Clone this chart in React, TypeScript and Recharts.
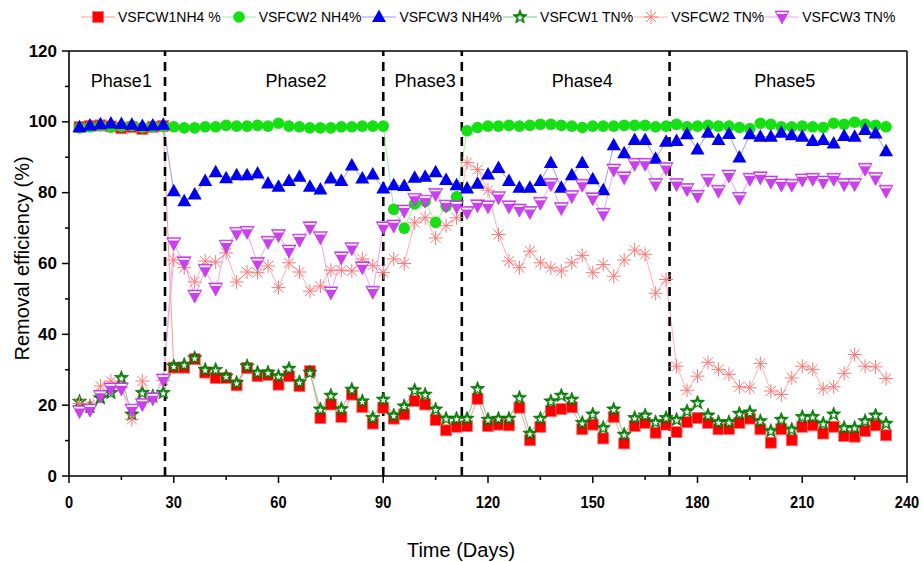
import { LineChart, Line, XAxis, YAxis, ReferenceLine, ReferenceDot } from 'recharts'

// sampling days (every 3 days)
const days = [3, 6, 9, 12, 15, 18, 21, 24, 27, 30, 33, 36, 39, 42, 45, 48, 51, 54, 57, 60, 63, 66, 69, 72, 75, 78, 81, 84, 87, 90,
  93, 96, 99, 102, 105, 108, 111, 114, 117, 120, 123, 126, 129, 132, 135, 138, 141, 144, 147, 150, 153, 156, 159, 162, 165, 168,
  171, 174, 177, 180, 183, 186, 189, 192, 195, 198, 201, 204, 207, 210, 213, 216, 219, 222, 225, 228, 231, 234]

const nh4W1 = [98.5, 98.8, 99, 98.7, 98.2, 98.5, 98, 98.6, 98.8,
  30.6, 30.6, 33, 29.2, 27.7, 27.7, 25.6, 30.5, 28.2, 28.5,
  25.8, 28.2, 25.4, 29.6, 16.4, 20.2, 16.7, 23, 19.5, 14.8, 19.3, 16.2, 17.4, 21.2, 20.2, 15.8, 12.9, 13.9, 14.1, 21.8,
  14.1, 14.5, 14.3, 19.3, 10.1, 13.9, 18.3, 18.9, 19.4, 13.2, 14.5, 10.6, 16.7, 9.2, 14.1, 15, 12.2, 14.5, 12.4, 15.2,
  16.4, 15, 13.2, 13.3, 15, 16.2, 13.2, 9.4, 13.2, 10.1, 13.9, 14.3, 12, 13.9, 11.3, 11.1, 12.7, 14.3, 11.5]

const nh4W2 = [98.3, 98.6, 98.9, 98.5, 98.7, 98.9, 98.4, 98.6, 98.7,
  98.6, 98.3, 98.3, 98.6, 98.6, 99, 98.8, 98.8, 99, 98.8, 99.6, 98.8, 98.6, 98.3, 98.3, 98.3, 98.6, 98.6, 98.8, 98.8, 98.8,
  75.3, 70, 76.8, 77.5, 71.6, 76.2, 78.8,
  97.5, 98.4, 98.8, 98.8, 99, 98.8, 99, 99.3, 99.3, 99, 98.8, 98.4, 98.8, 98.8, 98.8, 99, 99, 99, 98.6, 98.8,
  99.3, 98.6, 98.8, 99, 98.8, 98.8, 98.4, 98.1, 99.6, 99.3, 98.6, 98.6, 98.8, 98.6, 98.4, 99.6, 99.3, 99.9, 99.3, 99, 98.6]

const nh4W3 = [98.5, 99, 99.3, 99.5, 99.4, 99.2, 98.8, 99, 99.2,
  80.4, 77.6, 79.5, 83.3, 85.8, 84.1, 84.9, 84.9, 85.4, 82.6, 81.7, 83.3, 84.5, 81.7, 80.9, 84, 83.3, 87.7, 84, 85.1, 81.2,
  82.1, 81.9, 84.2, 84.5, 85.8, 83.6, 82.1,
  81.2, 82.5, 85.1, 87, 83.3, 81.4, 81.4, 83.3, 88.4, 81.4, 84.9, 88.4, 83.8, 80.7, 93.4, 91.1, 94.9, 94.9, 89.6, 94.4,
  94.6, 96.5, 92.2, 96.9, 94.9, 96.6, 89.9, 96.5, 95.8, 95.8, 96.9, 96.2, 95.8, 94.6, 94.9, 93.9, 96, 95.8, 97.7, 96.7, 91.7]

const tnW1 = [21, 19.5, 22, 23.5, 27.7, 17.4, 23.5, 22.5, 23.5,
  31, 31.4, 33.3, 30, 30, 28.1, 26.3, 31, 29.2, 29.2,
  28.2, 30.3, 26.5, 29.2, 18.8, 22.7, 18.9, 24.4, 21.1, 16.4, 21.6, 17.1, 19.7, 24.2, 23, 18.8, 16.2, 16.2, 16.2, 24.6,
  15.9, 16.2, 16.2, 22.1, 12, 16.2, 21.1, 22.7, 21.6, 15, 17.4, 13.6, 18.8, 11.7, 16.4, 17.1, 15.2, 16.4, 15.9, 18.3,
  20.7, 17.1, 15.2, 15.2, 17.6, 18, 15.5, 12.7, 15.9, 13.1, 16.7, 16.7, 14.8, 17.4, 13.6, 13.6, 15.5, 17.1, 14.8]

const tnW2 = [20.5, 20, 25.4, 26.8, 25, 16, 26.8, 22, 27,
  61, 58.8, 54.8, 60.7, 60.4, 63, 54.8, 57.6, 57.4, 59.3, 53.2, 60.2, 57.6, 52.2, 53.6, 58.1, 58.1, 57.9, 61.3, 59.4, 57.5,
  61.3, 60, 71.5, 72.9, 67.2, 70.7, 72.9,
  88.5, 86.5, 80.7, 68.2, 60.7, 58.8, 63.5, 60.2, 58.8, 57.9, 60.2, 62.3, 57.4, 59.7, 56.4, 61, 63.8, 62.6, 51.6, 55.5,
  31, 24.2, 28.2, 32.1, 30.1, 28.7, 25.2, 24.9, 31.8, 24, 23, 27.7, 31, 30.1, 24.6, 25.2, 29, 34.3, 31, 30.8, 27.5]

const tnW3 = [18.2, 18.6, 22.5, 24.6, 24.6, 18.6, 20.2, 21.8, 27.1,
  65.6, 60.2, 50.8, 58.1, 52.8, 64.9, 68.5, 68.8, 60, 66, 67.9, 63.5, 66.6, 70.1, 67.3, 51.7, 61.6, 64.2, 58.8, 51.9, 70.1,
  70.6, 74.8, 78.1, 77.6, 79.5, 76.2, 76,
  74.4, 76.3, 76, 78.6, 76, 75.1, 74.4, 77, 82.3, 75.5, 78.9, 82.1, 78.3, 73.9, 86.4, 84.2, 88, 88, 82.3, 86.8,
  82.3, 80.9, 79, 83.5, 80.4, 84.7, 78.4, 83.8, 84.2, 83, 82.2, 82.1, 83.6, 83.8, 83, 83.8, 82.3, 82.3, 86.6, 84, 80.4]

const phaseBreaks = [27.5, 90, 112.5, 172]
const phaseNames = ['Phase1', 'Phase2', 'Phase3', 'Phase4', 'Phase5']
const phaseLabelDays = [15, 65, 102, 147, 205]

const xTicks = [0, 15, 30, 45, 60, 75, 90, 105, 120, 135, 150, 165, 180, 195, 210, 225, 240]
const yTicks = [0, 10, 20, 30, 40, 50, 60, 70, 80, 90, 100, 110, 120]

type Kind = 'square' | 'circle' | 'tri' | 'star' | 'asterisk' | 'down'

const series: { key: string; name: string; kind: Kind; line: string; values: number[] }[] = [
  { key: 'nh4W1', name: 'VSFCW1NH4 %', kind: 'square', line: '#ff9a9a', values: nh4W1 },
  { key: 'nh4W2', name: 'VSFCW2 NH4%', kind: 'circle', line: '#9cf09c', values: nh4W2 },
  { key: 'nh4W3', name: 'VSFCW3 NH4%', kind: 'tri', line: '#9a9aff', values: nh4W3 },
  { key: 'tnW1', name: 'VSFCW1 TN%', kind: 'star', line: '#7fc87f', values: tnW1 },
  { key: 'tnW2', name: 'VSFCW2 TN%', kind: 'asterisk', line: '#ffb0b0', values: tnW2 },
  { key: 'tnW3', name: 'VSFCW3 TN%', kind: 'down', line: '#e6a6ff', values: tnW3 },
]

const data = days.map((d, i) => {
  const row: Record<string, number> = { day: d }
  series.forEach((s) => { row[s.key] = s.values[i] })
  return row
})

const FONT = "'Liberation Sans', Arial, sans-serif"

function starPoints(cx: number, cy: number, ro: number, ri: number) {
  const pts: string[] = []
  for (let k = 0; k < 10; k++) {
    const r = k % 2 === 0 ? ro : ri
    const a = -Math.PI / 2 + (k * Math.PI) / 5
    pts.push(`${cx + r * Math.cos(a)},${cy + r * Math.sin(a)}`)
  }
  return pts.join(' ')
}

function Marker({ kind, cx, cy }: { kind: Kind; cx: number; cy: number }) {
  if (cx == null || cy == null) return null
  switch (kind) {
    case 'square':
      return <rect x={cx - 5.5} y={cy - 5.5} width={11} height={11} fill='#ff0000' stroke='#ff7070' strokeWidth={0.8} />
    case 'circle':
      return <circle cx={cx} cy={cy} r={5.8} fill='#14e014' />
    case 'tri':
      return <polygon points={`${cx},${cy - 7.5} ${cx - 7},${cy + 5} ${cx + 7},${cy + 5}`} fill='#0000ee' />
    case 'star':
      return (
        <g>
          <polygon points={starPoints(cx, cy, 7.5, 3.2)} fill='#0a8a0a' stroke='#006000' strokeWidth={0.6} />
          <polygon points={starPoints(cx, cy + 0.8, 3.2, 1.4)} fill='#ffffff' />
        </g>
      )
    case 'asterisk':
      return (
        <g stroke='#ff7878' strokeWidth={1}>
          <line x1={cx - 7} y1={cy} x2={cx + 7} y2={cy} />
          <line x1={cx} y1={cy - 7} x2={cx} y2={cy + 7} />
          <line x1={cx - 5} y1={cy - 5} x2={cx + 5} y2={cy + 5} />
          <line x1={cx - 5} y1={cy + 5} x2={cx + 5} y2={cy - 5} />
        </g>
      )
    case 'down':
      return (
        <g>
          <polygon points={`${cx - 7},${cy - 6} ${cx + 7},${cy - 6} ${cx},${cy + 7}`} fill='#cc3ff0' stroke='#b52de0' strokeWidth={0.6} />
          <polygon points={`${cx - 5.6},${cy - 4.8} ${cx + 5.6},${cy - 4.8} ${cx + 4.7},${cy - 3.1} ${cx - 4.7},${cy - 3.1}`} fill='#ffffff' />
        </g>
      )
  }
  return null
}

function XTick(props: any) {
  const { x, y, payload } = props
  const v = payload.value
  const major = v % 30 === 0
  const axisY = y - 4 - 7
  return (
    <g>
      <line x1={x} x2={x} y1={axisY} y2={axisY + (major ? 7 : 4)} stroke='#000' strokeWidth={1.5} />
      {major && (
        // narrow look of the original tick font
        <text transform={`translate(${x},${axisY + 26}) scale(0.86,1)`} textAnchor='middle' dominantBaseline='central'
          style={{ fontFamily: FONT, fontWeight: 'bold', fontSize: 17 }} fill='#000'>
          {v}
        </text>
      )}
    </g>
  )
}

function YTick(props: any) {
  const { x, y, payload } = props
  const v = payload.value
  const major = v % 20 === 0
  const axisX = x + 5 + 7
  return (
    <g>
      <line x1={axisX - (major ? 7 : 4)} x2={axisX} y1={y} y2={y} stroke='#000' strokeWidth={1.5} />
      {major && (
        <text x={axisX - 12} y={y} textAnchor='end' dominantBaseline='central'
          style={{ fontFamily: FONT, fontWeight: 'bold', fontSize: 17 }} fill='#000'>
          {v}
        </text>
      )}
    </g>
  )
}

function LegendRow() {
  return (
    <div style={{ position: 'absolute', left: 81, top: 8, height: 18, display: 'flex', alignItems: 'center', whiteSpace: 'nowrap', fontFamily: FONT, fontSize: 14, color: '#000' }}>
      {series.map((s) => (
        <div key={s.key} style={{ display: 'flex', alignItems: 'center' }}>
          <svg width={34} height={18}>
            <line x1={0} x2={34} y1={9} y2={9} stroke={s.line} strokeWidth={1.2} />
            <Marker kind={s.kind} cx={17} cy={9} />
          </svg>
          <span style={{ marginLeft: 3, marginRight: 1 }}>{s.name}</span>
        </div>
      ))}
    </div>
  )
}

export default function App() {
  return (
    <div style={{ position: 'absolute', left: 0, top: 0, width: 923, height: 562, background: '#fff' }}>
      <LineChart width={923} height={562} data={data} margin={{ top: 51, right: 16, left: 0, bottom: 0 }}>
        <XAxis dataKey='day' type='number' domain={[0, 240]} ticks={xTicks} interval={0} height={86}
          tickSize={7} tickMargin={4} tickLine={false} tick={<XTick />}
          axisLine={{ stroke: '#000', strokeWidth: 1.6 }}
          label={{ value: 'Time (Days)', position: 'center', dx: -27, dy: 31, style: { fontFamily: FONT, fontSize: 20, fill: '#000' } }} />
        <YAxis type='number' domain={[0, 120]} ticks={yTicks} interval={0} width={69}
          tickSize={7} tickMargin={5} tickLine={false} tick={<YTick />}
          axisLine={{ stroke: '#000', strokeWidth: 1.6 }}
          label={{ value: 'Removal efficiency (%)', angle: -90, position: 'center', dx: -13, dy: -5, style: { fontFamily: FONT, fontSize: 20, fill: '#000' } }} />
        <ReferenceLine y={120} stroke='#000' strokeWidth={1.5} />
        <ReferenceLine x={240} stroke='#000' strokeWidth={1.5} />
        {series.map((s) => (
          <Line key={s.key} dataKey={s.key} name={s.name} stroke={s.line} strokeWidth={1}
            isAnimationActive={false} activeDot={false}
            dot={(p: any) => <Marker key={`${s.key}-${p.index}`} kind={s.kind} cx={p.cx} cy={p.cy} />} />
        ))}
        {phaseBreaks.map((d) => (
          <ReferenceLine key={d} x={d} stroke='#000' strokeWidth={2.6} strokeDasharray='9 6' />
        ))}
        {phaseNames.map((n, i) => (
          <ReferenceDot key={n} x={phaseLabelDays[i]} y={111.5} r={0} fill='none' stroke='none'
            label={{ value: n, position: 'center', style: { fontFamily: FONT, fontSize: 18, fill: '#000' } }} />
        ))}
      </LineChart>
      <LegendRow />
    </div>
  )
}
